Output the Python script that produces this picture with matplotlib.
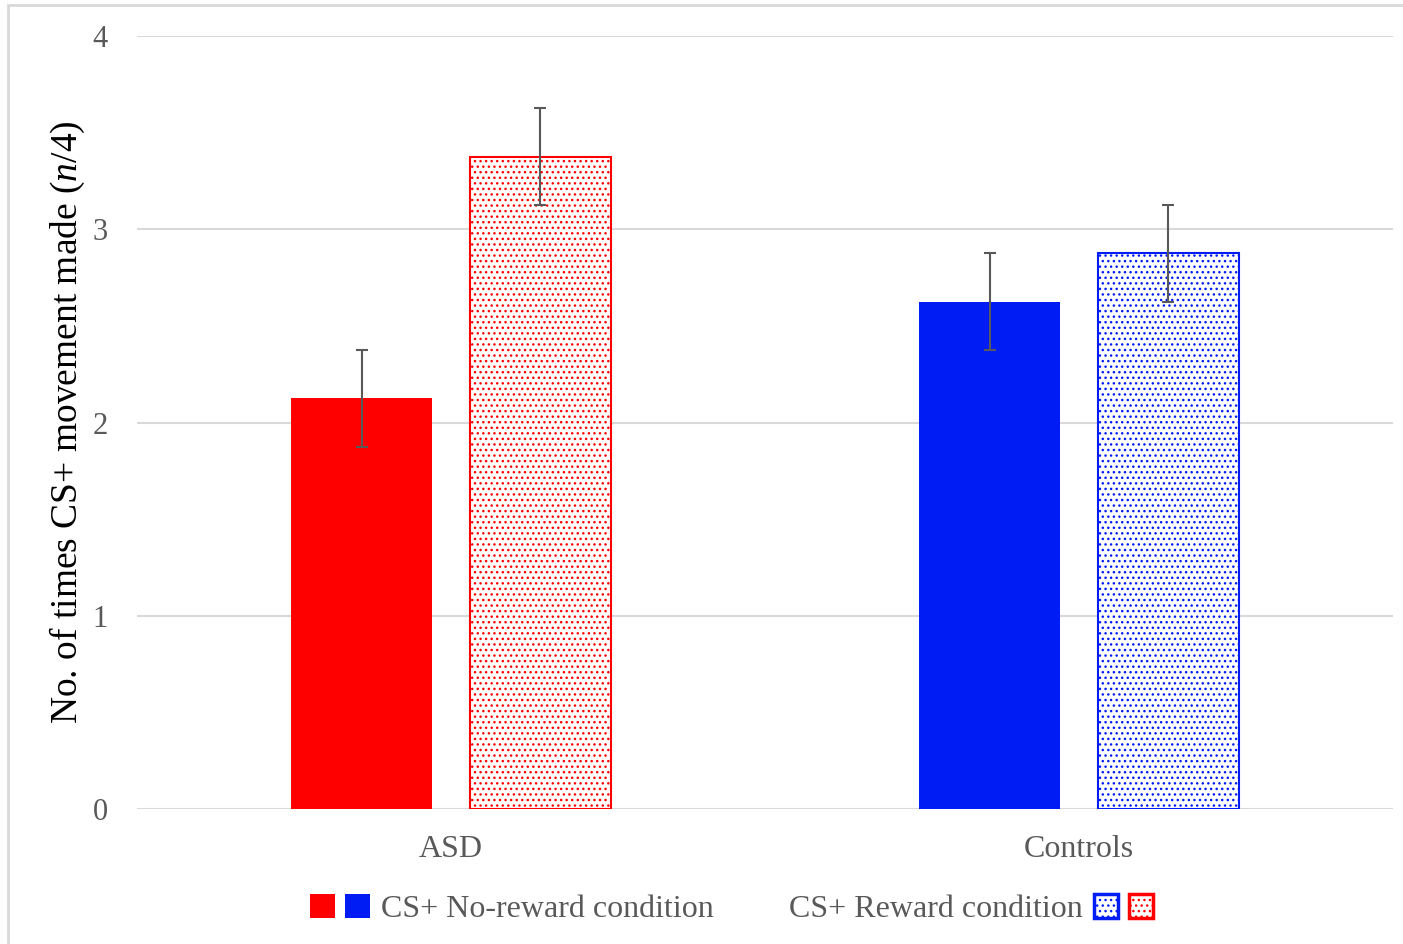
import matplotlib
matplotlib.use("Agg")
import numpy as np
import matplotlib.pyplot as plt
from matplotlib.patches import Patch, Rectangle
from matplotlib.legend_handler import HandlerTuple

groups = ["ASD", "Controls"]
no_reward = [2.125, 2.625]
no_reward_err = [0.25, 0.25]
reward = [3.375, 2.875]
reward_err = [0.25, 0.25]
colors = ["#FF0000", "#001CF5"]

plt.rcParams['font.family'] = ['Liberation Serif', 'DejaVu Serif']
plt.rcParams['mathtext.fontset'] = 'custom'
plt.rcParams['mathtext.rm'] = 'Liberation Serif'
plt.rcParams['mathtext.it'] = 'Liberation Serif:italic'
plt.rcParams['hatch.linewidth'] = 1.0

fig = plt.figure(figsize=(14.03, 9.44), dpi=100)
ax = fig.add_axes([137/1403, 1-809/944, 1256/1403, 773/944])

x = np.arange(len(groups))
w = 0.226
off = 0.1425
gray = "#595959"

ax.bar(x - off, no_reward, w, color=colors, zorder=3)
for xi, v, c in zip(x + off, reward, colors):
    ax.bar(xi, v, w, facecolor="white", edgecolor=c, hatch="...", linewidth=1.5, zorder=3)
ax.errorbar(x - off, no_reward, yerr=no_reward_err, fmt="none", ecolor=gray,
            elinewidth=1.5, capsize=4.6, capthick=1.5, zorder=4)
ax.errorbar(x + off, reward, yerr=reward_err, fmt="none", ecolor=gray,
            elinewidth=1.5, capsize=4.6, capthick=1.5, zorder=4)

ax.set_xlim(-0.5, 1.5)
ax.set_ylim(0, 4)
ax.set_yticks([0, 1, 2, 3, 4])
ax.set_xticks(x)
ax.set_xticklabels(groups)
ax.yaxis.grid(True, color="#D9D9D9", linewidth=1.5, zorder=0)
ax.set_axisbelow(True)
for s in ax.spines.values():
    s.set_visible(False)
ax.tick_params(axis="both", length=0, labelcolor=gray)
ax.tick_params(axis="y", pad=21, labelsize=22)
ax.tick_params(axis="x", pad=19, labelsize=23)
ax.set_ylabel("No. of times CS+ movement made ($\\mathit{n}$/4)", fontsize=27, labelpad=4)

# legend
h1 = (Patch(facecolor=colors[0]), Patch(facecolor=colors[1]))
h2 = (Patch(facecolor="white", edgecolor=colors[1], hatch="...", linewidth=2.5),
      Patch(facecolor="white", edgecolor=colors[0], hatch="...", linewidth=2.5))
kw = dict(frameon=False, fontsize=23, handlelength=1.85, handleheight=0.76,
          handletextpad=0.35, borderpad=0, borderaxespad=0, loc="center",
          labelcolor=gray)
leg1 = fig.legend([h1], ["CS+ No-reward condition"],
                  handler_map={tuple: HandlerTuple(ndivide=None, pad=0.33)},
                  bbox_to_anchor=(512/1403, 1-909/944), **kw)
leg2 = fig.legend([h2], ["CS+ Reward condition"], markerfirst=False,
                  handler_map={tuple: HandlerTuple(ndivide=None, pad=0.33)},
                  bbox_to_anchor=(971/1403, 1-909/944), **kw)

fig.patches.append(Rectangle((8/1403, -0.01), 1.1, 1-5/944 + 0.01, transform=fig.transFigure,
                             fill=False, edgecolor="#D9D9D9", linewidth=2, zorder=0))

fig.savefig("out.png", dpi=100)
